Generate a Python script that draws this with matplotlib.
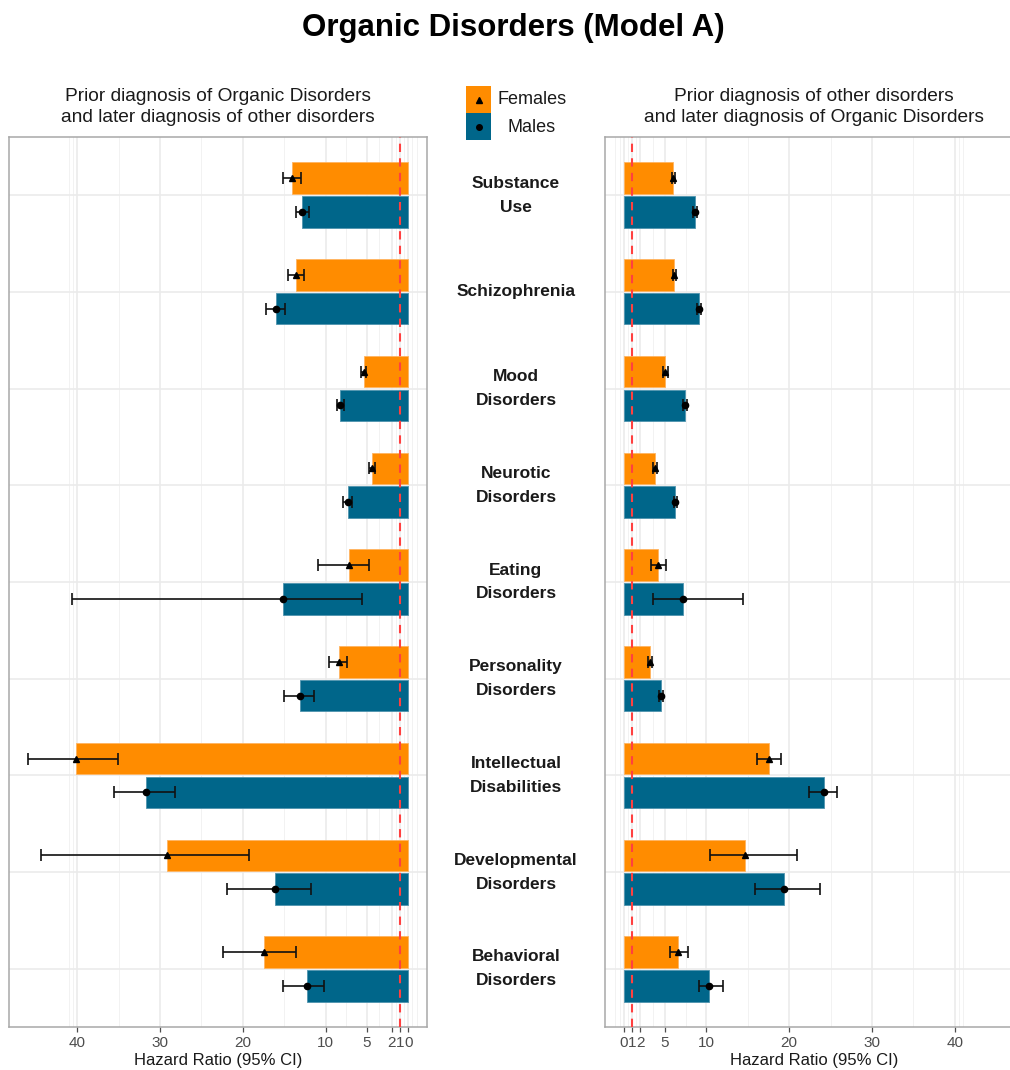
import numpy as np
import matplotlib
matplotlib.use("Agg")
import matplotlib.pyplot as plt
from matplotlib.patches import Rectangle
from matplotlib.transforms import blended_transform_factory

plt.rcParams['font.family'] = ['Liberation Sans', 'DejaVu Sans']

# categories (top to bottom)
categories = ["Substance\nUse", "Schizophrenia", "Mood\nDisorders", "Neurotic\nDisorders",
              "Eating\nDisorders", "Personality\nDisorders", "Intellectual\nDisabilities",
              "Developmental\nDisorders", "Behavioral\nDisorders"]

# left panel: prior organic -> later other
f_hr_a = [14.1, 13.6, 5.4, 4.4, 7.2, 8.4, 40.2, 29.2, 17.4]
f_lo_a = [13.0, 12.6, 5.1, 4.0, 4.8, 7.4, 35.1, 19.2, 13.6]
f_hi_a = [15.1, 14.5, 5.75, 4.7, 10.95, 9.55, 46.0, 44.4, 22.4]
m_hr_a = [12.8, 16.0, 8.2, 7.3, 15.1, 13.1, 31.7, 16.1, 12.3]
m_lo_a = [12.0, 14.9, 7.8, 6.8, 5.6, 11.4, 28.2, 11.8, 10.2]
m_hi_a = [13.6, 17.2, 8.6, 7.85, 40.6, 15.0, 35.6, 21.9, 15.1]

# right panel: prior other -> later organic
f_hr_b = [6.0, 6.1, 5.0, 3.75, 4.1, 3.15, 17.5, 14.7, 6.6]
f_lo_b = [5.85, 5.95, 4.8, 3.5, 3.35, 2.95, 16.15, 10.4, 5.65]
f_hi_b = [6.25, 6.35, 5.35, 4.05, 5.1, 3.45, 19.0, 20.9, 7.75]
m_hr_b = [8.6, 9.1, 7.4, 6.2, 7.2, 4.5, 24.2, 19.4, 10.35]
m_lo_b = [8.4, 8.85, 7.2, 6.05, 3.6, 4.3, 22.4, 15.9, 9.1]
m_hi_b = [8.9, 9.4, 7.65, 6.5, 14.4, 4.8, 25.8, 23.7, 12.0]

major_ticks = [0, 1, 2, 5, 10, 20, 30, 40]
minor_ticks = [-1, -0.5, 0.5, 1.5, 3.5, 7.5, 15, 25, 35, 40.5, 41]

col_f = '#FF8C00'
col_m = '#00668A'

W, H = 1010, 1070
fig = plt.figure(figsize=(W / 100, H / 100), dpi=100)


def px_axes(x0, y0, x1, y1):
    return fig.add_axes([x0 / W, 1 - y1 / H, (x1 - x0) / W, (y1 - y0) / H])


def draw_panel(ax, f_hr, f_lo, f_hi, m_hr, m_lo, m_hi):
    y = np.arange(len(categories))
    off, hgt = 0.175, 0.325
    ax.barh(y - off, f_hr, height=hgt, color=col_f, edgecolor='#FFB460', linewidth=0.6, zorder=2)
    ax.barh(y + off, m_hr, height=hgt, color=col_m, edgecolor='#4F93AE', linewidth=0.6, zorder=2)
    for hr, lo, hi, yy, mk, ms in [(f_hr, f_lo, f_hi, y - off, '^', 5), (m_hr, m_lo, m_hi, y + off, 'o', 4.5)]:
        hr, lo, hi = np.array(hr), np.array(lo), np.array(hi)
        ax.errorbar(hr, yy, xerr=[hr - lo, hi - hr], fmt='none', ecolor='#111111',
                    elinewidth=1.2, capsize=4.5, capthick=1.2, zorder=3)
        ax.plot(hr, yy, linestyle='none', marker=mk, color='black', markersize=ms, zorder=4)
    ax.axvline(1, color='#FF4040', linestyle=(0, (4, 3)), linewidth=1.5, zorder=5)
    ax.set_ylim(8.6, -0.6)
    ax.set_yticks(y)
    ax.set_yticklabels([])
    ax.tick_params(axis='y', length=0)
    ax.set_xticks(major_ticks)
    ax.set_xticklabels([str(t) for t in major_ticks])
    ax.set_xticks(minor_ticks, minor=True)
    ax.tick_params(axis='x', which='major', length=3.5, width=0.9, color='#4D4D4D',
                   labelcolor='#4D4D4D', labelsize=11, pad=3)
    ax.tick_params(axis='x', which='minor', length=0)
    ax.grid(which='major', color='#EBEBEB', linewidth=1.2, zorder=0)
    ax.grid(which='minor', axis='x', color='#F2F2F2', linewidth=0.7, zorder=0)
    ax.set_axisbelow(True)
    for s in ax.spines.values():
        s.set_color('#A8A8A8')
        s.set_linewidth(1.1)
    ax.set_xlabel('Hazard Ratio (95% CI)', fontsize=12, color='#1A1A1A', labelpad=2)


axL = px_axes(9, 137, 427, 1027)
draw_panel(axL, f_hr_a, f_lo_a, f_hi_a, m_hr_a, m_lo_a, m_hi_a)
axL.set_xlim(48.25, -2.26)

axR = px_axes(605, 137, 1023, 1027)
draw_panel(axR, f_hr_b, f_lo_b, f_hi_b, m_hr_b, m_lo_b, m_hi_b)
axR.set_xlim(-2.26, 48.25)

# titles
fig.text(513 / W, 1 - 28 / H, 'Organic Disorders (Model A)', ha='center', va='center',
         fontsize=22.5, fontweight='bold')
fig.text(218 / W, 1 - 107 / H, 'Prior diagnosis of Organic Disorders\nand later diagnosis of other disorders',
         ha='center', va='center', fontsize=13.8, linespacing=1.3, color='#1A1A1A')
fig.text(814 / W, 1 - 107 / H, 'Prior diagnosis of other disorders\nand later diagnosis of Organic Disorders',
         ha='center', va='center', fontsize=13.8, linespacing=1.3, color='#1A1A1A')

# middle category labels
trans = blended_transform_factory(fig.transFigure, axL.transData)
for i, c in enumerate(categories):
    fig.text(516 / W, i, c, transform=trans, ha='center', va='center', fontsize=12.5,
             fontweight='bold', linespacing=1.75, color='#1A1A1A')

# legend
axLeg = px_axes(466, 86, 491, 140)
axLeg.set_xlim(0, 1)
axLeg.set_ylim(2, 0)
axLeg.add_patch(Rectangle((0, 0), 1, 1, facecolor=col_f, edgecolor='none'))
axLeg.add_patch(Rectangle((0, 1), 1, 1, facecolor=col_m, edgecolor='none'))
axLeg.plot([0.5], [0.5], marker='^', color='black', markersize=4.5)
axLeg.plot([0.5], [1.5], marker='o', color='black', markersize=4)
axLeg.axis('off')
fig.text(532 / W, 1 - 100 / H, 'Females', ha='center', va='center', fontsize=13, color='#1A1A1A')
fig.text(532 / W, 1 - 127 / H, 'Males', ha='center', va='center', fontsize=13, color='#1A1A1A')

fig.savefig('out.png', dpi=100)
